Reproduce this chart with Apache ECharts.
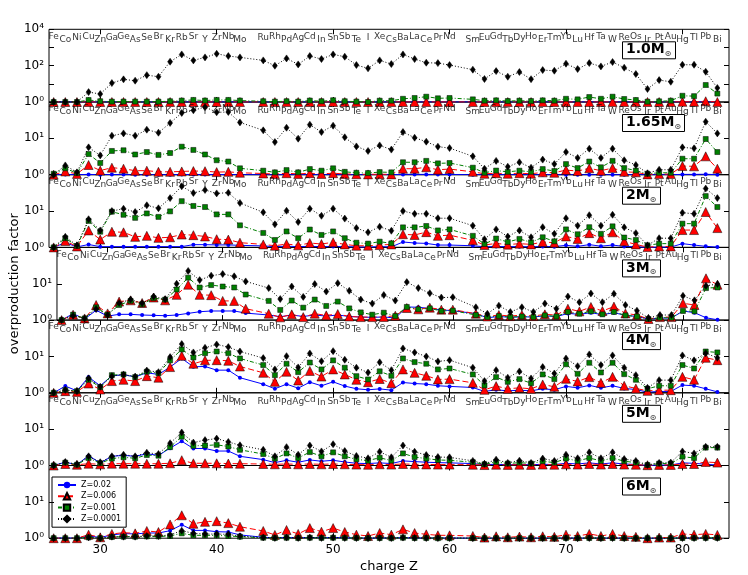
<!DOCTYPE html>
<html>
<head>
<meta charset="utf-8">
<script src="https://cdn.jsdelivr.net/npm/echarts@6/dist/echarts.min.js"></script>
<style>
  html, body { margin: 0; padding: 0; background: #fff; }
  #chart { width: 748px; height: 575px; }
</style>
</head>
<body>
<div id="chart"></div>
<script>
// element symbols and their charge Z (Tc and Pm are not in the plot)
var symbols = ['Fe','Co','Ni','Cu','Zn','Ga','Ge','As','Se','Br','Kr','Rb','Sr','Y','Zr','Nb','Mo',
  'Ru','Rh','Pd','Ag','Cd','In','Sn','Sb','Te','I','Xe','Cs','Ba','La','Ce','Pr','Nd',
  'Sm','Eu','Gd','Tb','Dy','Ho','Er','Tm','Yb','Lu','Hf','Ta','W','Re','Os','Ir','Pt','Au','Hg','Tl','Pb','Bi'];
var charges = [26,27,28,29,30,31,32,33,34,35,36,37,38,39,40,41,42,
  44,45,46,47,48,49,50,51,52,53,54,55,56,57,58,59,60,
  62,63,64,65,66,67,68,69,70,71,72,73,74,75,76,77,78,79,80,81,82,83];
var masses = ['1.0', '1.65', '2', '3', '4', '5', '6'];
var xTicks = [30, 40, 50, 60, 70, 80];

// 1.0 Msun
var m10_z02 = [1,1,1,1,1,1,1,1,1,1,1,1,1,1,1,1,1,
  1,1,1,1,1,1,1,1,1,1,1,1,1,1,1,1,1,
  1,1,1,1,1,1,1,1,1,1,1,1,1,1,1,1,1,1,1,1,1.02,1];
var m10_z006 = [1,1,1,1,1,1,1,1,1,1,1,1,1,1,1,1,1,
  1,1,1,1,1,1,1,1,1,1,1,1,1,1,1,1,1,
  1,1,1,1,1,1,1,1,1,1,1,1,1,1,1,1,1,1,1.02,1.02,1.1,1];
var m10_z001 = [1,1,1,1.29,1.1,1.05,1.05,1.05,1.05,1.05,1.1,1.2,1.3,1.2,1.3,1.3,1.2,
  1.1,1.05,1.1,1.05,1.2,1.1,1.25,1.1,1.05,1.0,1.18,1.18,1.5,1.66,1.96,1.6,1.66,
  1.4,1.18,1.23,1.13,1.18,1.13,1.23,1.18,1.5,1.4,1.88,1.5,1.96,1.46,1.29,1.04,1.09,1.18,2.2,2.1,8.6,2.9];
var m10_z0001 = [1,1,1,3.5,2.75,11,17.6,14.9,30,24.6,165,415,195,285,450,338,285,
  195,99,250,117,338,230,415,310,108,71,195,122,415,230,145,138,108,
  60,18.3,50,24.6,44.6,18,57,52.6,128,65,138,91,158,77,34.6,5.2,16,13,112,112,46,5.9];

// 1.65 Msun
var m165_z02 = [1,1.02,1,1.02,1,1.01,1.01,1,1,1,1,1.01,1.01,1.01,1.01,1.01,1,
  1,1,1,1,1,1,1,1,1,1,1,1,1.02,1.02,1.02,1.01,1.01,
  1,1,1,1,1,1,1,1,1,1,1,1,1,1,1,1,1,1,1.02,1.02,1.03,1];
var m165_z006 = [1.0,1.23,1.05,1.85,1.3,1.56,1.46,1.29,1.29,1.2,1.2,1.23,1.26,1.25,1.18,1.2,1.13,
  1.08,1.04,1.1,1.05,1.1,1.05,1.1,1.05,1.03,1.02,1.03,1.02,1.46,1.46,1.6,1.37,1.43,
  1.2,1.06,1.1,1.06,1.1,1.06,1.16,1.13,1.34,1.26,1.5,1.29,1.52,1.2,1.16,1.02,1.04,1.04,1.73,1.7,3.2,1.46];
var m165_z001 = [1.06,1.5,1.1,3.7,2.1,4.5,4.7,3.6,4.2,3.5,3.95,5.9,4.8,3.6,2.5,2.3,1.5,
  1.29,1.16,1.34,1.16,1.43,1.29,1.5,1.2,1.13,1.11,1.18,1.16,2.2,2.2,2.4,2.05,2.1,
  1.56,1.13,1.3,1.2,1.29,1.2,1.43,1.26,1.96,1.52,2.3,1.6,2.4,1.52,1.3,1.06,1.13,1.13,2.75,2.75,9.6,4.2];
var m165_z0001 = [1.0,1.8,1.16,5.65,3.4,11.8,13.7,11.8,17.3,14.3,26.5,50,59,73,52,53,27.5,
  16.6,7.9,19.6,9.8,23.8,14.9,22.3,10.7,6.0,4.5,6.4,4.9,14.9,10.4,8.1,5.9,5.4,
  3.2,1.46,2.4,1.66,2.2,1.56,2.6,1.96,4.2,2.9,5.2,2.9,5.2,2.5,1.85,1.09,1.37,1.37,5.65,5.3,28.7,13.7];

// 2 Msun
var m2_z02 = [1.0,1.35,1.03,1.2,1.05,1.05,1.05,1.05,1.05,1.05,1.05,1.05,1.19,1.19,1.17,1.17,1.14,
  1.1,1.05,1.08,1.05,1.07,1.05,1.06,1.05,1.03,1.02,1.05,1.03,1.41,1.32,1.29,1.16,1.16,
  1.11,1.04,1.06,1.05,1.05,1.04,1.06,1.05,1.14,1.07,1.19,1.08,1.16,1.06,1.05,1.0,1.02,1.02,1.27,1.16,1.07,1.02];
var m2_z006 = [1.0,1.5,1.06,2.93,1.64,2.7,2.6,1.95,2.08,1.83,1.9,2.26,2.17,2.0,1.68,1.64,1.35,
  1.21,1.11,1.24,1.14,1.32,1.24,1.38,1.21,1.11,1.11,1.16,1.21,2.3,2.2,2.63,2.08,2.17,
  1.57,1.16,1.29,1.19,1.27,1.21,1.41,1.35,2.0,1.71,2.47,1.79,2.6,1.47,1.21,1.02,1.06,1.06,3.0,3.0,9.4,3.4];
var m2_z001 = [1.0,1.79,1.09,5.35,2.7,9.6,7.9,6.5,8.6,6.9,9.8,18.7,13.8,12.9,8.1,8.1,4.05,
  2.5,1.6,2.75,1.79,3.1,2.2,2.75,1.79,1.35,1.27,1.44,1.29,3.56,3.56,3.88,2.93,3.13,
  2.08,1.24,1.75,1.41,1.71,1.38,1.9,1.47,3.13,2.3,3.6,2.36,3.8,1.87,1.6,1.14,1.27,1.27,4.5,4.5,25.8,12.9];
var m2_z0001 = [1.0,1.95,1.14,5.95,2.93,10,11.6,9.4,14.4,11.9,22.7,48,31.4,38,30.6,32,16.7,
  9.2,4.3,10.2,5.0,11.6,7.4,11.6,6.2,3.4,2.6,3.7,2.87,10,8.4,8.4,6.35,6.35,
  3.96,1.68,3.13,1.99,2.93,1.9,3.6,2.36,6.35,3.96,7.7,3.96,7.9,3.56,2.47,1.14,1.79,1.79,9.0,8.4,41.5,22.7];

// 3 Msun
var m3_z02 = [1.0,1.5,1.07,1.86,1.29,1.44,1.44,1.38,1.35,1.32,1.38,1.53,1.7,1.78,1.78,1.78,1.56,
  1.38,1.24,1.38,1.26,1.38,1.29,1.38,1.26,1.21,1.19,1.22,1.14,2.3,2.25,2.1,1.9,1.82,
  1.5,1.16,1.26,1.19,1.24,1.21,1.32,1.24,1.53,1.44,1.6,1.41,1.6,1.35,1.26,1.07,1.14,1.14,1.78,1.6,1.16,1.02];
var m3_z006 = [1.0,1.41,1.11,2.6,1.53,3.23,3.5,2.96,4.17,3.5,4.95,9.4,4.95,4.85,3.37,3.37,2.06,
  1.5,1.19,1.44,1.21,1.5,1.35,1.47,1.26,1.21,1.21,1.22,1.32,2.15,1.98,2.2,1.94,1.94,
  1.5,1.26,1.38,1.29,1.38,1.29,1.44,1.38,2.06,1.74,2.3,1.78,2.35,1.53,1.38,1.07,1.21,1.21,2.9,2.6,14.1,9.4];
var m3_z001 = [1.0,1.41,1.11,2.25,1.41,2.6,3.37,2.72,4.0,3.67,6.95,14.7,7.9,9.2,8.4,7.9,5.05,
  3.37,1.9,3.45,2.2,3.67,2.45,3.23,2.1,1.63,1.41,1.6,1.29,2.3,1.98,2.1,1.78,1.82,
  1.38,1.21,1.29,1.21,1.26,1.21,1.35,1.26,1.67,1.5,1.74,1.44,1.67,1.35,1.26,1.07,1.16,1.16,1.78,1.74,7.6,7.9];
var m3_z0001 = [1.0,1.32,1.11,2.02,1.38,2.96,3.67,2.9,4.45,3.75,10,22.5,12.6,16.7,18.5,16,11.6,
  7.6,3.8,8.4,4.35,9.8,6.1,10.4,6.4,3.67,2.84,4.9,3.45,11.1,7.6,5.5,4.17,4.25,
  2.25,1.5,2.5,1.67,2.25,1.67,2.84,2.06,4.45,3.1,5.4,3.1,5.3,2.6,1.82,1.14,1.38,1.38,4.65,3.5,8.8,9.8];

// 4 Msun
var m4_z02 = [1.0,1.53,1.13,2.7,1.56,2.94,3.13,2.75,3.55,3.2,5.1,8.8,5.2,5.3,4.2,4.2,2.6,
  1.73,1.29,1.73,1.34,1.96,1.56,2.0,1.53,1.29,1.21,1.28,1.18,1.92,1.8,1.73,1.56,1.5,
  1.4,1.09,1.21,1.13,1.18,1.13,1.29,1.21,1.5,1.37,1.6,1.37,1.56,1.32,1.23,1.04,1.09,1.09,1.63,1.56,1.29,1.06];
var m4_z006 = [1.0,1.11,1.06,1.8,1.23,2.1,2.28,2.1,2.87,2.6,5.1,10.4,6.3,7.8,7.9,7.6,5.3,
  3.55,2.0,3.8,2.18,4.0,2.8,4.4,3.2,2.28,1.96,2.4,1.84,4.4,3.55,2.94,2.33,2.38,
  1.88,1.21,1.53,1.29,1.37,1.29,1.7,1.46,2.43,2.05,2.7,1.88,2.75,1.56,1.32,1.13,1.18,1.18,2.75,2.28,9.2,7.9];
var m4_z001 = [1.0,1.18,1.11,2.28,1.43,3.06,3.2,2.7,3.8,3.47,7.8,15.6,9.4,12.3,13.7,12.3,8.8,
  5.8,3.06,6.3,3.7,6.8,4.4,7.8,4.9,2.87,2.33,3.9,2.94,8.8,7.0,6.3,4.4,4.67,
  3.2,1.6,2.7,2.0,2.38,1.84,3.2,2.38,6.1,3.33,6.7,3.63,6.7,3.26,2.28,1.29,1.56,1.56,5.8,4.67,13.7,12.9];
var m4_z0001 = [1.0,1.2,1.11,2.5,1.46,2.87,3.2,2.8,4.1,3.7,9.6,21.9,12.9,17.3,21.4,18.1,13.7,
  9.0,4.4,10.2,5.0,12.1,7.4,14.0,8.1,4.9,3.6,6.9,4.2,16.6,12.9,10,7.3,7.9,
  4.9,2.1,4.2,2.6,3.87,2.48,5.1,3.4,8.8,5.4,11.4,5.8,10.7,4.9,3.06,1.37,2.23,2.23,10.7,7.8,12.3,9.2];

// 5 Msun
var m5_z02 = [1.0,1.23,1.05,1.86,1.18,1.79,1.9,1.79,2.1,1.9,3.0,4.65,2.94,2.94,2.5,2.5,1.79,
  1.45,1.2,1.39,1.23,1.42,1.31,1.39,1.25,1.15,1.13,1.18,1.13,1.34,1.28,1.23,1.2,1.18,
  1.13,1.05,1.08,1.05,1.07,1.05,1.08,1.06,1.15,1.1,1.18,1.1,1.18,1.1,1.07,1.0,1.03,1.03,1.18,1.15,1.08,1.03];
var m5_z006 = [1.0,1.1,1.05,1.12,1.08,1.12,1.12,1.12,1.12,1.12,1.15,1.4,1.15,1.15,1.15,1.13,1.12,
  1.1,1.08,1.1,1.08,1.1,1.08,1.1,1.08,1.06,1.05,1.08,1.06,1.1,1.08,1.07,1.06,1.06,
  1.05,1.03,1.05,1.04,1.05,1.04,1.06,1.05,1.08,1.06,1.1,1.06,1.1,1.06,1.05,1.02,1.04,1.04,1.1,1.1,1.25,1.2];
var m5_z001 = [1.0,1.2,1.05,1.61,1.15,1.55,1.68,1.58,1.94,1.86,3.2,6.2,3.47,3.55,3.7,3.33,2.7,
  2.07,1.55,2.15,1.61,2.34,1.79,2.3,1.79,1.48,1.36,1.64,1.36,2.15,1.71,1.55,1.42,1.39,
  1.23,1.08,1.25,1.13,1.2,1.13,1.31,1.2,1.55,1.34,1.61,1.34,1.61,1.31,1.2,1.03,1.13,1.13,1.75,1.61,3.1,3.1];
var m5_z0001 = [1.0,1.25,1.08,1.79,1.23,1.79,1.98,1.79,2.25,2.07,4.1,8.1,4.27,5.0,5.5,4.45,3.6,
  2.7,1.79,3.2,1.98,3.55,2.44,3.85,2.5,1.83,1.58,2.39,1.68,3.55,2.39,1.94,1.71,1.68,
  1.34,1.11,1.45,1.18,1.36,1.18,1.55,1.34,1.98,1.58,2.3,1.58,2.3,1.51,1.34,1.04,1.18,1.2,2.44,2.15,3.26,3.26];

// 6 Msun
var m6_z02 = [1.0,1.02,1.0,1.15,1.05,1.23,1.34,1.31,1.39,1.39,1.61,2.34,1.64,1.64,1.51,1.48,1.23,
  1.06,1.03,1.05,1.03,1.05,1.03,1.05,1.03,1.01,1.0,1.02,1.01,1.04,1.02,1.01,1.01,1.01,
  1.0,1.0,1.0,1.0,1.0,1.0,1.0,1.0,1.01,1.0,1.01,1.0,1.01,1.0,1.0,1.0,1.0,1.0,1.01,1.01,1.0,1.0];
var m6_z006 = [1.0,1.0,1.0,1.25,1.06,1.31,1.42,1.36,1.58,1.48,2.39,4.27,2.5,2.82,2.94,2.6,2.07,
  1.58,1.23,1.68,1.31,1.9,1.51,1.9,1.48,1.25,1.15,1.39,1.25,1.75,1.39,1.28,1.2,1.2,
  1.15,1.04,1.13,1.06,1.11,1.06,1.13,1.09,1.25,1.15,1.31,1.15,1.31,1.15,1.09,1.0,1.04,1.04,1.31,1.25,1.31,1.23];
var m6_z001 = [1.0,1.0,1.0,1.05,1.0,1.08,1.1,1.1,1.12,1.12,1.15,1.36,1.2,1.2,1.2,1.15,1.1,
  1.03,1.01,1.03,1.01,1.03,1.02,1.03,1.02,1.01,1.0,1.01,1.0,1.03,1.01,1.01,1.0,1.0,
  1.0,1.0,1.0,1.0,1.0,1.0,1.0,1.0,1.01,1.0,1.01,1.0,1.01,1.0,1.0,1.0,1.0,1.0,1.01,1.01,1.02,1.02];
var m6_z0001 = [1.0,1.0,1.0,1.05,1.0,1.1,1.1,1.1,1.15,1.15,1.23,1.61,1.36,1.3,1.3,1.28,1.13,
  1.05,1.02,1.04,1.02,1.04,1.02,1.04,1.02,1.01,1.0,1.02,1.01,1.04,1.02,1.01,1.01,1.01,
  1.0,1.0,1.0,1.0,1.0,1.0,1.0,1.0,1.01,1.0,1.01,1.0,1.01,1.0,1.0,1.0,1.0,1.0,1.01,1.01,1.02,1.02];

var panels = [
  [m10_z02, m10_z006, m10_z001, m10_z0001],
  [m165_z02, m165_z006, m165_z001, m165_z0001],
  [m2_z02, m2_z006, m2_z001, m2_z0001],
  [m3_z02, m3_z006, m3_z001, m3_z0001],
  [m4_z02, m4_z006, m4_z001, m4_z0001],
  [m5_z02, m5_z006, m5_z001, m5_z0001],
  [m6_z02, m6_z006, m6_z001, m6_z0001]
];

var FONT = 'DejaVu Sans';
var styles = [
  {name: 'Z=0.02', color: '#0000ff', symbol: 'circle', size: 4, line: 'solid'},
  {name: 'Z=0.006', color: '#ff0000', symbol: 'triangle', size: 9, line: [6, 3]},
  {name: 'Z=0.001', color: '#007f00', symbol: 'rect', size: 5, line: [4, 2, 1, 2]},
  {name: 'Z=0.0001', color: '#000000', symbol: 'diamond', size: [5, 7], line: [1, 2]}
];
var sup = ['\u2070', '\u00b9', '\u00b2', '\u00b3', '\u2074'];
var labelOffset = [7, 10, 8.5];

var PTOP = 29.3, PH = 72.7;
var grids = [], xAxes = [], yAxes = [], series = [], titles = [];
var xTop = [], yRight = [];

for (var i = 0; i < panels.length; i++) {
  (function (i) {
    var top = PTOP + i * PH;
    var ymax = i === 0 ? 10000 : 100;
    grids.push({left: 49, right: 19, top: top, height: PH, show: true,
      borderColor: '#000', borderWidth: 1});
    xAxes.push({
      type: 'value', gridIndex: i, min: 25.6, max: 84,
      axisLine: {show: false},
      axisTick: {inside: true, length: 5, customValues: xTicks, lineStyle: {color: '#000'}},
      axisLabel: {show: i === 6, customValues: xTicks, color: '#000', fontSize: 12,
        fontFamily: FONT, margin: 6},
      splitLine: {show: false},
      name: i === 6 ? 'charge Z' : '', nameLocation: 'middle', nameGap: 22,
      nameTextStyle: {color: '#000', fontSize: 13, fontFamily: FONT}
    });
    // mirrored ticks on the top edge
    xTop.push({
      type: 'value', gridIndex: i, min: 25.6, max: 84, position: 'top',
      axisLine: {show: false},
      axisTick: {inside: true, length: 5, customValues: xTicks, lineStyle: {color: '#000'}},
      axisLabel: {show: false}, splitLine: {show: false}
    });
    yAxes.push({
      type: 'log', logBase: 10, gridIndex: i, min: 1, max: ymax,
      axisLine: {show: false},
      axisTick: {inside: true, length: 5, lineStyle: {color: '#000'}},
      axisLabel: {color: '#000', fontSize: 12, fontFamily: FONT, margin: 5,
        formatter: function (v) {
          var e = Math.round(Math.log10(v));
          if (i === 0) return e % 2 === 0 ? '10' + sup[e] : '';
          return e === 2 ? '' : '10' + sup[e];
        }},
      splitLine: {show: false},
      name: i === 3 ? 'overproduction factor' : '', nameLocation: 'middle', nameGap: 28,
      nameTextStyle: {color: '#000', fontSize: 13, fontFamily: FONT}
    });
    // mirrored ticks on the right edge
    yRight.push({
      type: 'log', logBase: 10, gridIndex: i, min: 1, max: ymax, position: 'right',
      axisLine: {show: false},
      axisTick: {inside: true, length: 5, lineStyle: {color: '#000'}},
      axisLabel: {show: false}, splitLine: {show: false}
    });
    styles.forEach(function (s, k) {
      series.push({
        type: 'line', name: s.name, xAxisIndex: i, yAxisIndex: i,
        data: charges.map(function (c, j) { return [c, panels[i][k][j]]; }),
        symbol: s.symbol, symbolSize: s.size, showSymbol: true,
        lineStyle: {color: s.color, width: 1, type: s.line},
        itemStyle: {color: s.color, borderColor: k === 0 ? s.color : '#000', borderWidth: k === 0 ? 0 : 0.5},
        z: 2 + k, animation: false, clip: true
      });
    });
    if (i < 6) {
      series.push({
        type: 'scatter', name: 'elements' + i, xAxisIndex: i, yAxisIndex: i, silent: true,
        symbolSize: 1, itemStyle: {color: 'rgba(0,0,0,0)'},
        data: charges.map(function (c, j) {
          return {value: [c, ymax], label: {offset: [0, labelOffset[j % 3]]}};
        }),
        label: {show: true, position: 'inside', color: '#000', fontSize: 9, fontFamily: FONT,
          formatter: function (p) { return symbols[p.dataIndex]; }},
        z: 10, animation: false
      });
    }
    titles.push({
      text: '{a|' + masses[i] + 'M}{b|\u2299}',
      left: 622, top: top + 11,
      borderColor: '#000', borderWidth: 1, padding: [1, 4, 1, 4],
      textStyle: {rich: {
        a: {fontSize: 14, fontFamily: FONT, color: '#000', lineHeight: 17},
        b: {fontSize: 8, fontFamily: FONT, color: '#555', verticalAlign: 'bottom', lineHeight: 12}
      }}
    });
  })(i);
}

var chart = echarts.init(document.getElementById('chart'));
chart.setOption({
  backgroundColor: '#fff',
  animation: false,
  title: titles,
  legend: {
    data: styles.map(function (s) { return s.name; }),
    orient: 'vertical', left: 52, top: 477,
    borderColor: '#000', borderWidth: 1, padding: [4, 5], itemGap: 3,
    itemWidth: 18, itemHeight: 8,
    textStyle: {fontSize: 8, fontFamily: FONT, color: '#000'},
    selectedMode: false
  },
  grid: grids,
  xAxis: xAxes.concat(xTop),
  yAxis: yAxes.concat(yRight),
  series: series
});
</script>
</body>
</html>
